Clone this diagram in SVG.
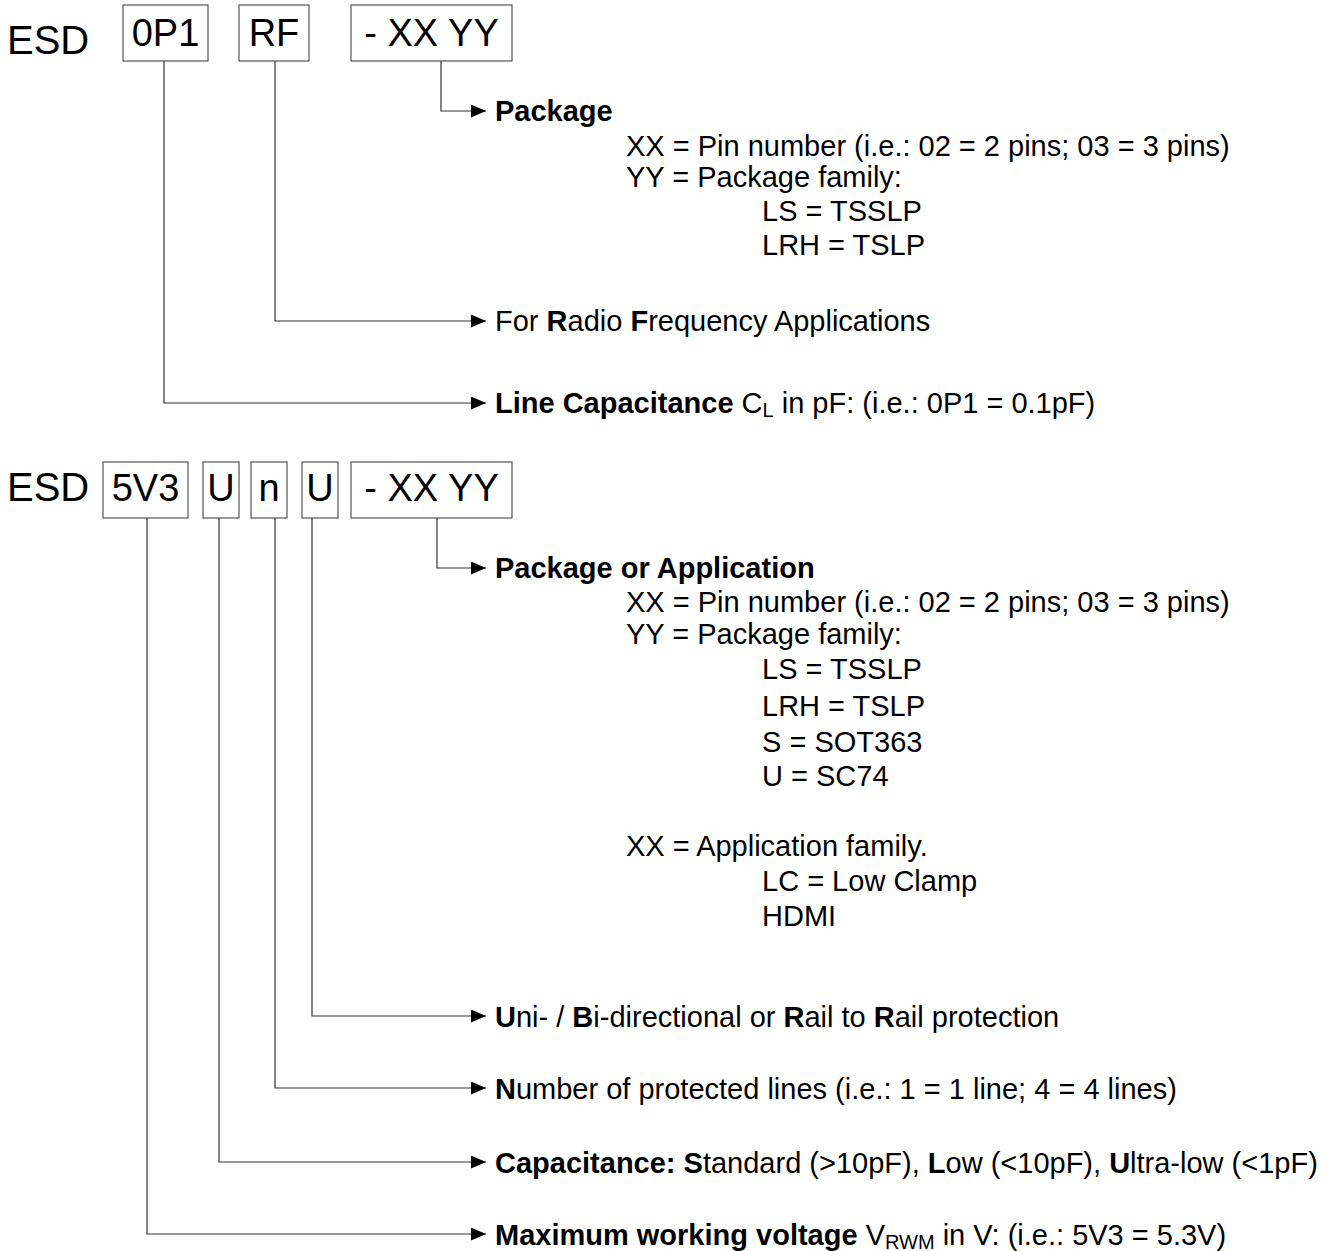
<svg xmlns="http://www.w3.org/2000/svg" width="1337" height="1251" viewBox="0 0 1337 1251">
<style>
.t{font-family:"Liberation Sans",Arial,sans-serif;fill:#000}
.big{font-size:40px}
.bx{font-size:38px}
.b{font-size:29px}
.h{font-size:29px;font-weight:bold}
.sub{font-size:20px}
.box{fill:#fff;stroke:#333;stroke-width:1}
.con{fill:none;stroke:#333;stroke-width:1.2}
</style>
<defs>
<marker id="ah" viewBox="0 0 15 13" refX="15" refY="6.5" markerWidth="15" markerHeight="13" markerUnits="userSpaceOnUse" orient="auto">
<path d="M0,0 L15,6.5 L0,13 z" fill="#000"/>
</marker>
</defs>
<rect width="1337" height="1251" fill="#fff"/>

<g id="connectors">
<path class="con" d="M441,61 V111 H486" marker-end="url(#ah)"/>
<path class="con" d="M275,61 V321 H486" marker-end="url(#ah)"/>
<path class="con" d="M164,61 V403 H486" marker-end="url(#ah)"/>
<path class="con" d="M437,518 V568 H486" marker-end="url(#ah)"/>
<path class="con" d="M312,518 V1016 H486" marker-end="url(#ah)"/>
<path class="con" d="M275,518 V1088 H486" marker-end="url(#ah)"/>
<path class="con" d="M219,518 V1162 H486" marker-end="url(#ah)"/>
<path class="con" d="M147,518 V1234 H486" marker-end="url(#ah)"/>
</g>

<g id="top-esd"><text class="t big" x="7" y="54">ESD</text></g>
<g id="top-0p1"><rect class="box" x="123" y="5" width="85" height="56"/><text class="t bx" x="165.5" y="46" text-anchor="middle">0P1</text></g>
<g id="top-rf"><rect class="box" x="239" y="5" width="70" height="56"/><text class="t bx" x="274" y="46" text-anchor="middle">RF</text></g>
<g id="top-xxyy"><rect class="box" x="351" y="5" width="161" height="56"/><text class="t bx" x="431.5" y="46" text-anchor="middle">- XX YY</text></g>

<g id="top-package">
<text class="t h" x="495" y="121">Package</text>
<text class="t b" x="626" y="156">XX = Pin number (i.e.: 02 = 2 pins; 03 = 3 pins)</text>
<text class="t b" x="626" y="187">YY = Package family:</text>
<text class="t b" x="762" y="221">LS = TSSLP</text>
<text class="t b" x="762" y="255">LRH = TSLP</text>
</g>
<g id="top-rf-label"><text class="t b" x="495" y="331">For <tspan font-weight="bold">R</tspan>adio <tspan font-weight="bold">F</tspan>requency Applications</text></g>
<g id="top-cap-label"><text class="t b" x="495" y="413"><tspan font-weight="bold">Line Capacitance</tspan> C<tspan class="sub" dy="4">L</tspan><tspan dy="-4"> in pF: (i.e.: 0P1 = 0.1pF)</tspan></text></g>

<g id="bot-esd"><text class="t big" x="7" y="501">ESD</text></g>
<g id="bot-5v3"><rect class="box" x="103" y="462" width="85" height="56"/><text class="t bx" x="145.5" y="501" text-anchor="middle">5V3</text></g>
<g id="bot-u1"><rect class="box" x="203" y="462" width="36" height="56"/><text class="t bx" x="221" y="501" text-anchor="middle">U</text></g>
<g id="bot-n"><rect class="box" x="251" y="462" width="36" height="56"/><text class="t bx" x="269" y="501" text-anchor="middle">n</text></g>
<g id="bot-u2"><rect class="box" x="302" y="462" width="36" height="56"/><text class="t bx" x="320" y="501" text-anchor="middle">U</text></g>
<g id="bot-xxyy"><rect class="box" x="351" y="462" width="161" height="56"/><text class="t bx" x="431.5" y="501" text-anchor="middle">- XX YY</text></g>

<g id="bot-package">
<text class="t h" x="495" y="578">Package or Application</text>
<text class="t b" x="626" y="612">XX = Pin number (i.e.: 02 = 2 pins; 03 = 3 pins)</text>
<text class="t b" x="626" y="644">YY = Package family:</text>
<text class="t b" x="762" y="679">LS = TSSLP</text>
<text class="t b" x="762" y="716">LRH = TSLP</text>
<text class="t b" x="762" y="752">S = SOT363</text>
<text class="t b" x="762" y="786">U = SC74</text>
<text class="t b" x="626" y="856">XX = Application family.</text>
<text class="t b" x="762" y="891">LC = Low Clamp</text>
<text class="t b" x="762" y="926">HDMI</text>
</g>
<g id="bot-dir"><text class="t b" x="495" y="1027"><tspan font-weight="bold">U</tspan>ni- / <tspan font-weight="bold">B</tspan>i-directional or <tspan font-weight="bold">R</tspan>ail to <tspan font-weight="bold">R</tspan>ail protection</text></g>
<g id="bot-num"><text class="t b" x="495" y="1099"><tspan font-weight="bold">N</tspan>umber of protected lines (i.e.: 1 = 1 line; 4 = 4 lines)</text></g>
<g id="bot-cap"><text class="t b" x="495" y="1173"><tspan font-weight="bold">Capacitance: S</tspan>tandard (&gt;10pF), <tspan font-weight="bold">L</tspan>ow (&lt;10pF), <tspan font-weight="bold">U</tspan>ltra-low (&lt;1pF)</text></g>
<g id="bot-vrwm"><text class="t b" x="495" y="1245"><tspan font-weight="bold">Maximum working voltage</tspan> V<tspan class="sub" dy="4">RWM</tspan><tspan dy="-4"> in V: (i.e.: 5V3 = 5.3V)</tspan></text></g>
</svg>
